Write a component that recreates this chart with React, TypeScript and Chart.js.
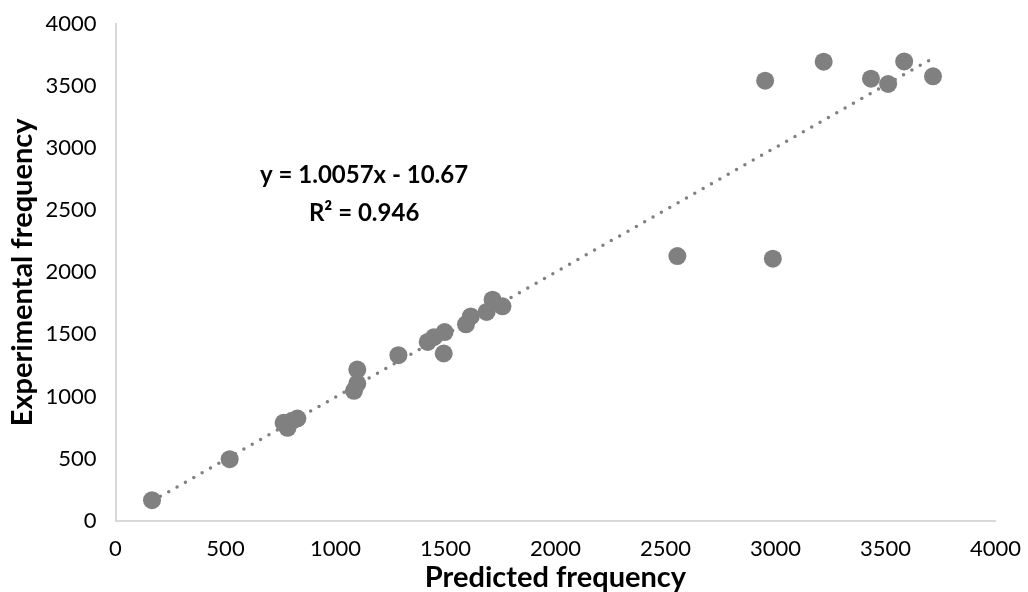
import React, { useEffect, useRef } from "react";
import { Chart, registerables } from "chart.js";

Chart.register(...registerables);

// ---- data ----
const predicted = [166, 519, 764, 782, 802, 827, 1084, 1099, 1099, 1286, 1419, 1447, 1496, 1492, 1593, 1615, 1687, 1714, 1759, 2554, 2953, 2988, 3219, 3434, 3512, 3585, 3716];
const experimental = [164, 494, 787, 747, 803, 822, 1045, 1104, 1216, 1332, 1439, 1477, 1519, 1346, 1581, 1645, 1681, 1780, 1726, 2131, 3545, 2110, 3698, 3561, 3518, 3700, 3580];
const trendSlope = 1.0057;
const trendIntercept = -10.67;
const equationText = "y = 1.0057x - 10.67";
const r2Text = "R\u00B2 = 0.946";
const xTitle = "Predicted frequency";
const yTitle = "Experimental frequency";
const axisMin = 0;
const axisMax = 4000;
const tickStep = 500;

export default function App() {
  const ref = useRef<HTMLCanvasElement>(null);

  useEffect(() => {
    document.body.style.margin = "0";
    const canvas = ref.current;
    if (!canvas) return;

    const points = predicted.map((x, i) => ({ x, y: experimental[i] }));
    const xMin = Math.min(...predicted);
    const xMax = Math.max(...predicted);
    const trend = [
      { x: xMin, y: trendSlope * xMin + trendIntercept },
      { x: xMax, y: trendSlope * xMax + trendIntercept },
    ];

    const eqPlugin = {
      id: "eqLabel",
      afterDatasetsDraw(chart: any) {
        const ctx = chart.ctx;
        const xs = chart.scales.x;
        const ys = chart.scales.y;
        const cx = xs.getPixelForValue(1130);
        const cy = ys.getPixelForValue(2780);
        ctx.save();
        ctx.font = "bold 24px Lato";
        ctx.fillStyle = "#000000";
        ctx.textAlign = "center";
        ctx.textBaseline = "middle";
        ctx.fillText(equationText, cx, cy);
        ctx.fillText(r2Text, cx, cy + 38);
        ctx.restore();
      },
    };

    const chart = new Chart(canvas, {
      type: "scatter",
      data: {
        datasets: [
          {
            label: "data",
            data: points,
            backgroundColor: "#808080",
            borderColor: "#808080",
            pointRadius: 9,
            pointHoverRadius: 9,
            pointBorderWidth: 0,
            order: 0,
          },
          {
            type: "line",
            label: "trend",
            data: trend,
            borderColor: "#808080",
            borderWidth: 3.5,
            borderDash: [0, 9.6],
            borderCapStyle: "round",
            pointRadius: 0,
            fill: false,
            order: 1,
          } as any,
        ],
      },
      options: {
        animation: false,
        responsive: false,
        maintainAspectRatio: false,
        layout: { padding: { top: 23.5, right: 28.5, left: 0, bottom: 0 } },
        plugins: {
          legend: { display: false },
          tooltip: { enabled: false },
        },
        scales: {
          x: {
            type: "linear",
            min: axisMin,
            max: axisMax,
            grid: { display: false },
            border: { display: true, color: "#d9d9d9", width: 2 },
            ticks: {
              stepSize: tickStep,
              color: "#000000",
              font: { family: "Lato", size: 22 },
              padding: 7,
              maxRotation: 0,
              callback: (v: any) => String(v),
            },
            title: {
              display: true,
              text: xTitle,
              color: "#000000",
              font: { family: "Lato", size: 29, weight: "bold", lineHeight: 1 },
              padding: { top: 0, bottom: 0 },
            },
            afterFit(scale: any) {
              scale.height = 71.5;
            },
          },
          y: {
            type: "linear",
            min: axisMin,
            max: axisMax,
            grid: { display: false },
            border: { display: true, color: "#d9d9d9", width: 2 },
            ticks: {
              stepSize: tickStep,
              color: "#000000",
              font: { family: "Lato", size: 22 },
              padding: 11,
              callback: (v: any) => String(v),
            },
            title: {
              display: true,
              text: yTitle,
              color: "#000000",
              font: { family: "Lato", size: 29, weight: "bold", lineHeight: 1 },
              padding: { top: 8, bottom: 0 },
            },
            afterFit(scale: any) {
              scale.width = 115.5;
            },
          },
        },
      },
      plugins: [eqPlugin],
    });

    return () => chart.destroy();
  }, []);

  return (
    <div style={{ position: "relative", width: 1028, height: 592 }}>
      <canvas ref={ref} width={1028} height={592} style={{ display: "block" }} />
    </div>
  );
}
